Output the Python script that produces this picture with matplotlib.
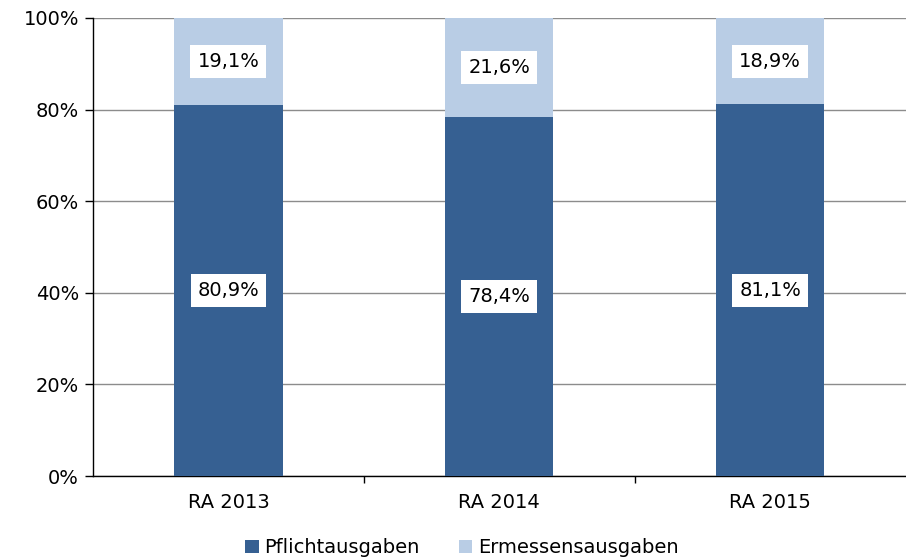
import matplotlib.pyplot as plt
from matplotlib.ticker import FuncFormatter, FixedLocator

categories = ["RA 2013", "RA 2014", "RA 2015"]
pflicht = [80.9, 78.4, 81.1]
ermessen = [19.1, 21.6, 18.9]
series_names = ["Pflichtausgaben", "Ermessensausgaben"]

DARK = "#366092"
LIGHT = "#B9CDE5"
FS = 14

plt.rcParams["font.family"] = "DejaVu Sans"

fig = plt.figure(figsize=(9.06, 5.6), dpi=100)
ax = fig.add_axes([0.1026, 0.15, 0.897, 0.818])

x = range(len(categories))
b1 = ax.bar(x, pflicht, width=0.4, color=DARK, label=series_names[0], zorder=3)
b2 = ax.bar(x, ermessen, width=0.4, bottom=pflicht, color=LIGHT, label=series_names[1], zorder=3)

for rect, v in zip(b1, pflicht):
    ax.text(rect.get_x() + rect.get_width() / 2, v / 2, f"{v:.1f}%".replace(".", ","),
            ha="center", va="center", fontsize=FS, zorder=4,
            bbox=dict(facecolor="white", edgecolor="none", pad=5))
for rect, base, v in zip(b2, pflicht, ermessen):
    ax.text(rect.get_x() + rect.get_width() / 2, base + v / 2, f"{v:.1f}%".replace(".", ","),
            ha="center", va="center", fontsize=FS, zorder=4,
            bbox=dict(facecolor="white", edgecolor="none", pad=5))

ax.set_ylim(0, 100)
ax.set_xlim(-0.5, len(categories) - 0.5)
ax.set_yticks(range(0, 101, 20))
ax.yaxis.set_major_formatter(FuncFormatter(lambda v, p: f"{v:.0f}%"))
ax.yaxis.grid(True, color="#8c8c8c", linewidth=1, zorder=0)

ax.set_xticks(list(x))
ax.set_xticklabels(categories)
ax.xaxis.set_minor_locator(FixedLocator([0.5, 1.5]))
ax.tick_params(axis="x", which="major", length=0, pad=12, labelsize=FS)
ax.tick_params(axis="x", which="minor", length=5, width=1)
ax.tick_params(axis="y", length=6, width=1, labelsize=FS, pad=4)

for s in ["top", "right"]:
    ax.spines[s].set_visible(False)
ax.spines["left"].set_linewidth(1)
ax.spines["bottom"].set_linewidth(1)

fig.legend(handles=[b1, b2], labels=series_names, loc="center", bbox_to_anchor=(0.51, 0.022),
           ncol=2, frameon=False, fontsize=FS, handlelength=0.7, handleheight=0.7,
           handletextpad=0.3, columnspacing=2.0)

fig.savefig("out.png", dpi=100)
